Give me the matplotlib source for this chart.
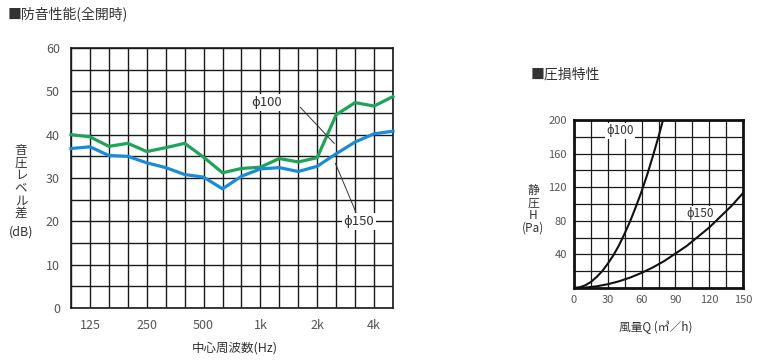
import numpy as np
import matplotlib
matplotlib.use("Agg")
from matplotlib import pyplot as plt

plt.rcParams['font.family'] = ['Noto Sans CJK JP', 'DejaVu Sans']

# 防音性能 (1/3 octave bands, 100 Hz .. 5 kHz)
bands = ['100', '125', '160', '200', '250', '315', '400', '500', '630',
         '800', '1k', '1.25k', '1.6k', '2k', '2.5k', '3.15k', '4k', '5k']
shown_ticks = ['125', '250', '500', '1k', '2k', '4k']
phi100_db = [40.0, 39.5, 37.3, 38.0, 36.1, 37.0, 38.0, 34.8, 31.2,
             32.2, 32.5, 34.5, 33.7, 34.7, 44.6, 47.4, 46.6, 48.8]
phi150_db = [36.8, 37.2, 35.2, 35.0, 33.5, 32.4, 30.8, 30.2, 27.5,
             30.4, 32.1, 32.4, 31.5, 32.7, 35.6, 38.3, 40.2, 40.8]

# 圧損特性
q100 = [0, 5, 10, 15, 20, 25, 30, 35, 40, 45, 50, 55, 60, 65, 70, 75, 79]
h100 = [0, 0.8, 3.2, 7.2, 13, 20, 29, 39, 51, 65, 80, 97, 115, 135, 157, 180, 200]
q150 = [0, 10, 20, 30, 40, 50, 60, 70, 80, 90, 100, 110, 120, 130, 140, 150]
h150 = [0, 0.5, 2, 4.5, 8, 12.5, 18, 24.5, 32, 41, 50, 61, 72, 85, 98, 113]

green = '#1fa35b'
blue = '#1a8bd6'
txt = '#333333'
tick_c = '#555555'

fig = plt.figure(figsize=(7.6, 3.6), dpi=100)
W, H = 760, 360


def px(x, y):
    return x / W, 1 - y / H


# ---- left chart
ax = fig.add_axes([71 / W, 52 / H, 322 / W, 260 / H])
x = np.arange(len(bands))
ax.set_xlim(0, len(bands) - 1)
ax.set_ylim(0, 60)
ax.set_xticks(x, minor=True)
ax.set_yticks(np.arange(0, 61, 5), minor=True)
ax.grid(True, which='both', color='#1a1a1a', lw=1.0)
ax.set_xticks([bands.index(b) for b in shown_ticks])
ax.set_xticklabels(shown_ticks)
ax.set_yticks(np.arange(0, 61, 10))
ax.tick_params(which='both', length=0, labelsize=9, colors=tick_c, pad=8)
for s in ax.spines.values():
    s.set_color('#1a1a1a')
    s.set_linewidth(1.2)
ax.plot(x, phi100_db, color=green, lw=2.3, zorder=3, clip_on=False)
ax.plot(x, phi150_db, color=blue, lw=2.3, zorder=3, clip_on=False)

# leader lines + labels
ax.annotate('', xy=(14.0, 37.5), xytext=(12.0, 46.8),
            arrowprops=dict(arrowstyle='-', color='#333333', lw=0.7))
ax.text(10.3, 47.4, 'ϕ100', fontsize=9.5, color=txt, ha='center', va='center',
        bbox=dict(boxstyle='square,pad=0.15', fc='white', ec='none'), zorder=4)
ax.annotate('', xy=(13.9, 34.0), xytext=(15.1, 21.5),
            arrowprops=dict(arrowstyle='-', color='#333333', lw=0.7))
ax.text(15.2, 20.0, 'ϕ150', fontsize=9.5, color=txt, ha='center', va='center',
        bbox=dict(boxstyle='square,pad=0.15', fc='white', ec='none'), zorder=4)

fig.text(*px(8, 14), '■防音性能(全開時)', fontsize=10, color=txt,
         ha='left', va='center')
fig.text(*px(21, 182), '音\n圧\nレ\nベ\nル\n差', fontsize=9, color=txt,
         ha='center', va='center', linespacing=0.95)
fig.text(*px(21, 232), '(dB)', fontsize=9, color=txt, ha='center', va='center')
fig.text(*px(235, 348), '中心周波数(Hz)', fontsize=9, color=txt,
         ha='center', va='center')

# ---- right chart
ax2 = fig.add_axes([574 / W, 72 / H, 169 / W, 168 / H])
ax2.set_xlim(0, 150)
ax2.set_ylim(0, 200)
ax2.set_xticks(np.arange(0, 151, 15), minor=True)
ax2.set_yticks(np.arange(0, 201, 20), minor=True)
ax2.grid(True, which='both', color='#1a1a1a', lw=0.9)
ax2.set_xticks(np.arange(0, 151, 30))
ax2.set_yticks(np.arange(40, 201, 40))
ax2.tick_params(which='both', length=0, labelsize=8, colors=tick_c, pad=5)
for s in ax2.spines.values():
    s.set_color('#111111')
    s.set_linewidth(2.0)
ax2.plot(q100, h100, color='#111111', lw=1.5, zorder=3)
ax2.plot(q150, h150, color='#111111', lw=1.5, zorder=3)
ax2.text(40.5, 187, 'ϕ100', fontsize=8.5, color=txt, ha='center', va='center',
         bbox=dict(boxstyle='square,pad=0.1', fc='white', ec='none'), zorder=2)
ax2.text(112, 89, 'ϕ150', fontsize=8.5, color=txt, ha='center', va='center',
         bbox=dict(boxstyle='square,pad=0.1', fc='white', ec='none'), zorder=2)

fig.text(*px(531, 75), '■圧損特性', fontsize=10, color=txt,
         ha='left', va='center')
fig.text(*px(533, 203), '静\n圧\nH', fontsize=8.5, color=txt,
         ha='center', va='center', linespacing=0.95)
fig.text(*px(533, 228), '(Pa)', fontsize=8.5, color=txt, ha='center', va='center')
fig.text(*px(656, 327), '風量Q (㎥／h)', fontsize=8.5, color=txt,
         ha='center', va='center')

fig.savefig('out.png', dpi=100, facecolor='white')
